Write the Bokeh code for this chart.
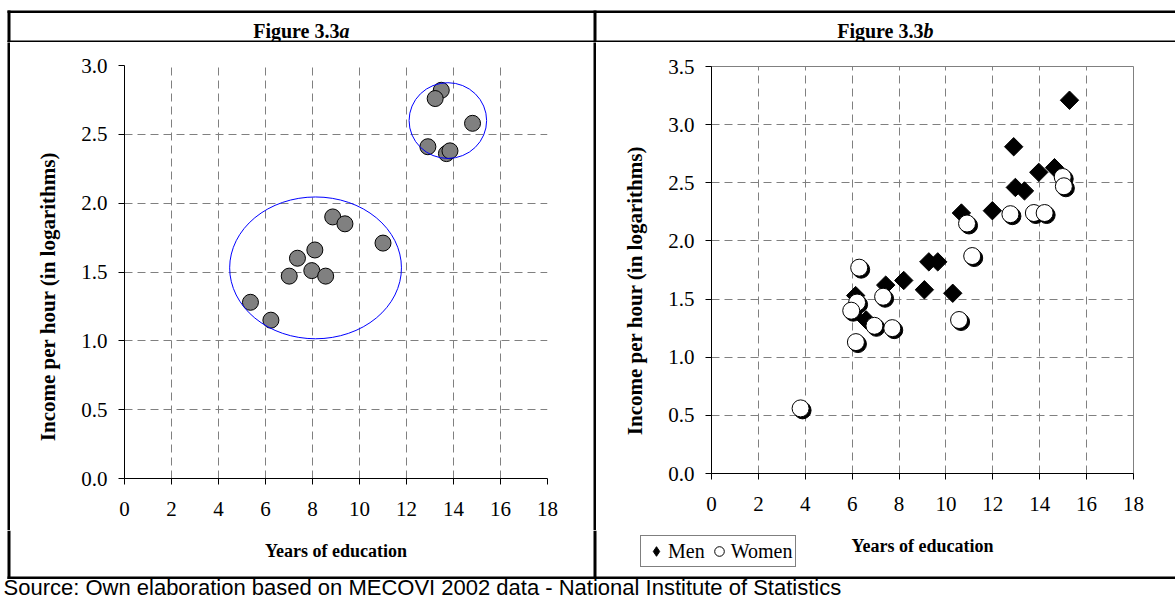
import numpy as np
from bokeh.plotting import figure
from bokeh.models import (Range1d, FixedTicker, NumeralTickFormatter, BoxAnnotation,
                          Label, Legend, LegendItem, ColumnDataSource, Plot, Spacer)
from bokeh.layouts import column, row
from bokeh.embed import file_html
from bokeh.resources import INLINE

# ---------------- data ----------------
x_ticks = [0, 2, 4, 6, 8, 10, 12, 14, 16, 18]
y_ticks_a = [0.0, 0.5, 1.0, 1.5, 2.0, 2.5, 3.0]
y_ticks_b = [0.0, 0.5, 1.0, 1.5, 2.0, 2.5, 3.0, 3.5]

# Figure 3.3a : years of education vs log income per hour
edu_a = [13.48, 13.22, 14.81, 12.91, 13.70, 13.85, 8.86, 9.38, 11.00, 8.10, 7.36, 7.97, 7.01, 8.56, 5.36, 6.23]
inc_a = [2.82, 2.76, 2.58, 2.41, 2.36, 2.38, 1.90, 1.85, 1.71, 1.66, 1.60, 1.51, 1.47, 1.47, 1.28, 1.15]

# cluster ellipses (center, width, height in data units)
cluster_x = [13.76, 8.13]
cluster_y = [2.60, 1.53]
cluster_w = [3.30, 7.31]
cluster_h = [0.55, 1.03]

# Figure 3.3b : men and women
men_edu = [15.27, 12.89, 13.96, 14.63, 12.96, 13.35, 11.98, 10.66, 9.27, 9.65, 8.20, 7.43, 9.08, 10.29, 6.15, 6.60]
men_inc = [3.21, 2.81, 2.59, 2.63, 2.46, 2.43, 2.26, 2.24, 1.82, 1.82, 1.66, 1.62, 1.58, 1.55, 1.53, 1.32]
women_edu = [14.98, 15.03, 12.75, 13.75, 14.21, 10.90, 11.12, 6.30, 7.32, 6.21, 5.96, 6.95, 7.71, 10.56, 6.16, 3.80]
women_inc = [2.55, 2.47, 2.23, 2.24, 2.24, 2.15, 1.87, 1.77, 1.52, 1.47, 1.40, 1.27, 1.25, 1.32, 1.13, 0.56]

title_a = ("Figure 3.3", "a")
title_b = ("Figure 3.3", "b")
x_title = "Years of education"
y_title = "Income per hour (in logarithms)"
legend_labels = ["Men", "Women"]
source_text = "Source: Own elaboration based on MECOVI 2002 data - National Institute of Statistics"

SERIF = "Liberation Serif"
SANS = "Liberation Sans"
W = 1175
H_TOP, H_MID, H_BOT = 42, 488, 69
Y_CUT = H_TOP + H_MID  # 530
HAS_FRAME_ALIGN = "frame_align" in Plot.properties()


def no_align(p):
    if HAS_FRAME_ALIGN:
        p.frame_align = False
    return p


def style_axes(p, y_ticks):
    for ax in (p.xaxis[0], p.yaxis[0]):
        ax.axis_line_color = "black"
        ax.axis_line_width = 1
        ax.major_tick_line_color = "black"
        ax.major_tick_out = 6
        ax.major_tick_in = 0
        ax.minor_tick_line_color = None
        ax.major_label_text_font = SERIF
        ax.major_label_text_font_size = "21px"
        ax.major_label_text_color = "black"
    p.xaxis[0].ticker = FixedTicker(ticks=x_ticks)
    p.yaxis[0].ticker = FixedTicker(ticks=y_ticks)
    p.xaxis[0].major_label_standoff = 17
    p.yaxis[0].major_label_standoff = 11
    p.yaxis[0].formatter = NumeralTickFormatter(format="0.0")
    p.xaxis[0].formatter = NumeralTickFormatter(format="0")
    p.grid.grid_line_color = "#808080"
    p.grid.grid_line_dash = "8 5"
    p.grid.grid_line_width = 1
    p.background_fill_color = "white"
    p.border_fill_color = "white"


def strip_fig(width, height, x0, x1, y0, y1, fill="white"):
    """A figure whose frame is its whole canvas, in page-pixel units (y downwards)."""
    f = figure(width=width, height=height, x_range=Range1d(x0, x1), y_range=Range1d(y1, y0),
               x_axis_type=None, y_axis_type=None, output_backend="svg",
               toolbar_location=None, title=None, min_border=0)
    f.outline_line_color = None
    f.grid.visible = False
    f.border_fill_color = fill
    f.background_fill_color = fill
    return no_align(f)


def bar(p, x0, x1, y0, y1):
    p.add_layout(BoxAnnotation(left=x0, right=x1, top=y0, bottom=y1,
                               fill_color="black", fill_alpha=1.0,
                               line_color=None, level="overlay"))


def text(p, x, y, s, font=SERIF, size="20px", style="normal", align="center",
         baseline="middle", angle=0.0):
    p.add_layout(Label(x=x, y=y, text=s, text_font=font, text_font_size=size,
                       text_font_style=style, text_align=align, text_baseline=baseline,
                       angle=angle, text_color="black"))


# ---------------- title row ----------------
pT = strip_fig(W, H_TOP, 0, W, 0, H_TOP)
bar(pT, 7, W, 10, 12.5)          # top border
bar(pT, 7, W, 40, 42)            # title divider
bar(pT, 7, 10, 10, 42)           # left border
bar(pT, 593, 596, 10, 42)        # middle divider
for c, t in ((301, title_a), (885, title_b)):
    text(pT, c + 38, 30, t[0], style="bold", align="right", baseline="alphabetic")
    text(pT, c + 38, 30, t[1], style="bold italic", align="left", baseline="alphabetic")

# ---------------- middle row ----------------
# solid black border strips (whole canvas filled)
pL = strip_fig(3, H_MID, 7, 10, H_TOP, Y_CUT, fill="black")
pD = strip_fig(3, H_MID, 593, 596, H_TOP, Y_CUT, fill="black")

# y-axis title strips
pYA = strip_fig(60, H_MID, 10, 70, H_TOP, Y_CUT)
text(pYA, 47, 296, y_title, size="21px", style="bold", angle=np.pi / 2)
pYB = strip_fig(60, H_MID, 596, 656, H_TOP, Y_CUT)
text(pYB, 634, 290, y_title, size="21px", style="bold", angle=np.pi / 2)

# Figure a
pA = no_align(figure(width=522, height=H_MID, x_range=Range1d(0, 18), y_range=Range1d(0, 3),
                     output_backend="svg", toolbar_location=None, title=None,
                     min_border_left=54, min_border_right=45, min_border_top=23,
                     min_border_bottom=52))
style_axes(pA, y_ticks_a)
pA.outline_line_color = None

src_a = ColumnDataSource(dict(x=edu_a, y=inc_a))
pA.scatter("x", "y", source=src_a, marker="circle", size=16,
           fill_color="#808080", line_color="black", line_width=1)
src_cl = ColumnDataSource(dict(x=cluster_x, y=cluster_y, w=cluster_w, h=cluster_h))
pA.ellipse("x", "y", width="w", height="h", source=src_cl,
           fill_color=None, line_color="#0000FF", line_width=1)

# Figure b
pB = no_align(figure(width=519, height=H_MID, x_range=Range1d(0, 18), y_range=Range1d(0, 3.5),
                     output_backend="svg", toolbar_location=None, title=None,
                     min_border_left=55, min_border_right=42, min_border_top=24,
                     min_border_bottom=57))
style_axes(pB, y_ticks_b)
pB.outline_line_color = "#808080"
pB.outline_line_width = 1

# pixel-sized shadow offset of the women markers, expressed in data units
sh_dx = 2.0 * 18 / 422
sh_dy = 2.0 * 3.5 / 407
src_m = ColumnDataSource(dict(x=men_edu, y=men_inc))
src_w = ColumnDataSource(dict(x=women_edu, y=women_inc))
src_ws = ColumnDataSource(dict(x=np.array(women_edu) + sh_dx, y=np.array(women_inc) - sh_dy))

MEN_STYLE = dict(marker="square", angle=np.pi / 4, size=13,
                 fill_color="black", line_color="black", line_width=1)
WOMEN_STYLE = dict(marker="circle", size=17, fill_color="white",
                   line_color="black", line_width=1)
pB.scatter("x", "y", source=src_m, **MEN_STYLE)
pB.scatter("x", "y", source=src_ws, marker="circle", size=17,
           fill_color="black", line_color="black", line_width=1)
pB.scatter("x", "y", source=src_w, **WOMEN_STYLE)

# ---------------- bottom row ----------------
pS = strip_fig(W, H_BOT, 0, W, Y_CUT, Y_CUT + H_BOT)
bar(pS, 7, 10, Y_CUT, 578.5)
bar(pS, 593, 596, Y_CUT, 578.5)
bar(pS, 7, W, 576, 578.5)
text(pS, 335.5, 550, x_title, size="18px", style="bold")
text(pS, 922, 545, x_title, size="18px", style="bold")
text(pS, 3, 587, source_text, font=SANS, size="22px", align="left", baseline="middle")

# legend proxies (same series, outside this strip's visible range)
r_men = pS.scatter(men_edu, men_inc, marker="diamond", size=13,
                   fill_color="black", line_color="black", line_width=1)
r_women = pS.scatter(women_edu, women_inc, **WOMEN_STYLE)
legend = Legend(items=[LegendItem(label=legend_labels[0], renderers=[r_men]),
                       LegendItem(label=legend_labels[1], renderers=[r_women])],
                orientation="horizontal", location=(640, Y_CUT + H_BOT - 567),
                border_line_color="black", border_line_width=1,
                background_fill_color="white", background_fill_alpha=1.0,
                label_text_font=SERIF, label_text_font_size="20px",
                label_text_color="black",
                glyph_width=24, glyph_height=24, label_standoff=0,
                spacing=2, padding=3, margin=0)
pS.add_layout(legend, "center")

mid = row(Spacer(width=7, height=H_MID), pL, pYA, pA, Spacer(width=1, height=H_MID),
          pD, pYB, pB, spacing=0)
layout = column(pT, mid, pS, spacing=0)
open("out.html", "w").write(file_html(layout, INLINE))
